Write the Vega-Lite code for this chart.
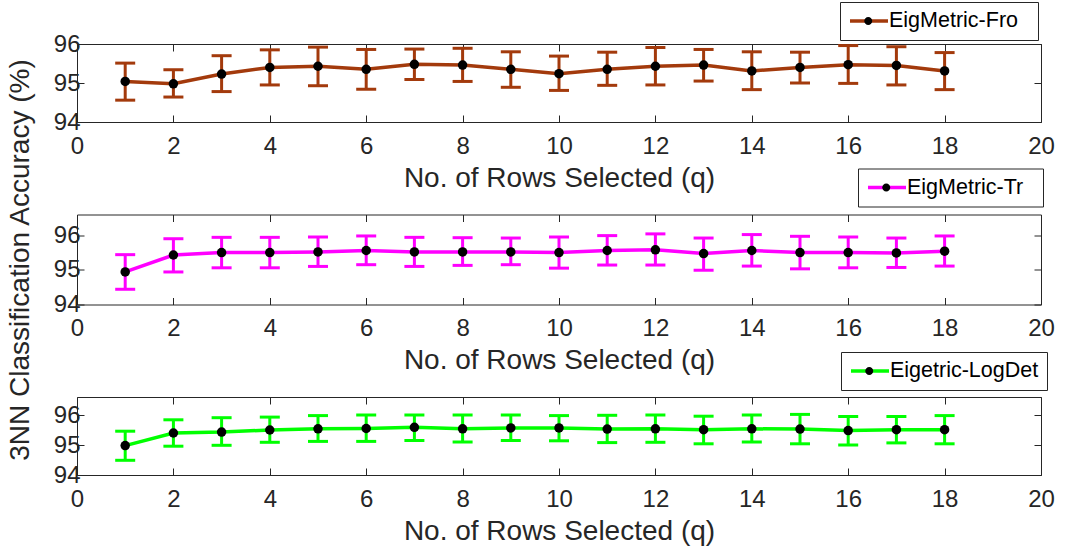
{
  "$schema": "https://vega.github.io/schema/vega-lite/v6.json",
  "padding": {"left": 5, "top": 1, "right": 5, "bottom": 5},
  "bounds": "flush",
  "spacing": 92.5,
  "datasets": {
    "fro": [
      {"q": 1, "acc": 95.04, "lo": 94.56, "hi": 95.51, "series": "EigMetric-Fro"},
      {"q": 2, "acc": 94.98, "lo": 94.64, "hi": 95.34, "series": "EigMetric-Fro"},
      {"q": 3, "acc": 95.23, "lo": 94.78, "hi": 95.70, "series": "EigMetric-Fro"},
      {"q": 4, "acc": 95.40, "lo": 94.95, "hi": 95.85, "series": "EigMetric-Fro"},
      {"q": 5, "acc": 95.43, "lo": 94.93, "hi": 95.92, "series": "EigMetric-Fro"},
      {"q": 6, "acc": 95.35, "lo": 94.84, "hi": 95.86, "series": "EigMetric-Fro"},
      {"q": 7, "acc": 95.48, "lo": 95.09, "hi": 95.87, "series": "EigMetric-Fro"},
      {"q": 8, "acc": 95.46, "lo": 95.04, "hi": 95.89, "series": "EigMetric-Fro"},
      {"q": 9, "acc": 95.35, "lo": 94.89, "hi": 95.80, "series": "EigMetric-Fro"},
      {"q": 10, "acc": 95.24, "lo": 94.81, "hi": 95.69, "series": "EigMetric-Fro"},
      {"q": 11, "acc": 95.35, "lo": 94.94, "hi": 95.79, "series": "EigMetric-Fro"},
      {"q": 12, "acc": 95.43, "lo": 94.95, "hi": 95.91, "series": "EigMetric-Fro"},
      {"q": 13, "acc": 95.46, "lo": 95.05, "hi": 95.86, "series": "EigMetric-Fro"},
      {"q": 14, "acc": 95.31, "lo": 94.83, "hi": 95.80, "series": "EigMetric-Fro"},
      {"q": 15, "acc": 95.40, "lo": 95.00, "hi": 95.79, "series": "EigMetric-Fro"},
      {"q": 16, "acc": 95.47, "lo": 94.99, "hi": 95.96, "series": "EigMetric-Fro"},
      {"q": 17, "acc": 95.45, "lo": 94.95, "hi": 95.93, "series": "EigMetric-Fro"},
      {"q": 18, "acc": 95.31, "lo": 94.83, "hi": 95.78, "series": "EigMetric-Fro"}
    ],
    "tr": [
      {"q": 1, "acc": 94.94, "lo": 94.44, "hi": 95.44, "series": "EigMetric-Tr"},
      {"q": 2, "acc": 95.43, "lo": 94.94, "hi": 95.90, "series": "EigMetric-Tr"},
      {"q": 3, "acc": 95.50, "lo": 95.06, "hi": 95.94, "series": "EigMetric-Tr"},
      {"q": 4, "acc": 95.50, "lo": 95.06, "hi": 95.94, "series": "EigMetric-Tr"},
      {"q": 5, "acc": 95.52, "lo": 95.10, "hi": 95.95, "series": "EigMetric-Tr"},
      {"q": 6, "acc": 95.56, "lo": 95.15, "hi": 95.98, "series": "EigMetric-Tr"},
      {"q": 7, "acc": 95.52, "lo": 95.10, "hi": 95.94, "series": "EigMetric-Tr"},
      {"q": 8, "acc": 95.52, "lo": 95.13, "hi": 95.93, "series": "EigMetric-Tr"},
      {"q": 9, "acc": 95.52, "lo": 95.15, "hi": 95.92, "series": "EigMetric-Tr"},
      {"q": 10, "acc": 95.50, "lo": 95.05, "hi": 95.95, "series": "EigMetric-Tr"},
      {"q": 11, "acc": 95.56, "lo": 95.14, "hi": 95.99, "series": "EigMetric-Tr"},
      {"q": 12, "acc": 95.58, "lo": 95.14, "hi": 96.04, "series": "EigMetric-Tr"},
      {"q": 13, "acc": 95.47, "lo": 94.99, "hi": 95.92, "series": "EigMetric-Tr"},
      {"q": 14, "acc": 95.56, "lo": 95.11, "hi": 96.02, "series": "EigMetric-Tr"},
      {"q": 15, "acc": 95.50, "lo": 95.03, "hi": 95.97, "series": "EigMetric-Tr"},
      {"q": 16, "acc": 95.50, "lo": 95.06, "hi": 95.95, "series": "EigMetric-Tr"},
      {"q": 17, "acc": 95.49, "lo": 95.07, "hi": 95.92, "series": "EigMetric-Tr"},
      {"q": 18, "acc": 95.54, "lo": 95.11, "hi": 95.98, "series": "EigMetric-Tr"}
    ],
    "logdet": [
      {"q": 1, "acc": 94.98, "lo": 94.49, "hi": 95.46, "series": "Eigetric-LogDet"},
      {"q": 2, "acc": 95.40, "lo": 94.96, "hi": 95.84, "series": "Eigetric-LogDet"},
      {"q": 3, "acc": 95.43, "lo": 94.99, "hi": 95.91, "series": "Eigetric-LogDet"},
      {"q": 4, "acc": 95.50, "lo": 95.09, "hi": 95.93, "series": "Eigetric-LogDet"},
      {"q": 5, "acc": 95.54, "lo": 95.12, "hi": 95.98, "series": "Eigetric-LogDet"},
      {"q": 6, "acc": 95.55, "lo": 95.12, "hi": 96.00, "series": "Eigetric-LogDet"},
      {"q": 7, "acc": 95.59, "lo": 95.15, "hi": 96.00, "series": "Eigetric-LogDet"},
      {"q": 8, "acc": 95.54, "lo": 95.10, "hi": 96.00, "series": "Eigetric-LogDet"},
      {"q": 9, "acc": 95.57, "lo": 95.15, "hi": 96.00, "series": "Eigetric-LogDet"},
      {"q": 10, "acc": 95.57, "lo": 95.14, "hi": 95.98, "series": "Eigetric-LogDet"},
      {"q": 11, "acc": 95.53, "lo": 95.08, "hi": 95.99, "series": "Eigetric-LogDet"},
      {"q": 12, "acc": 95.54, "lo": 95.09, "hi": 96.00, "series": "Eigetric-LogDet"},
      {"q": 13, "acc": 95.51, "lo": 95.04, "hi": 95.96, "series": "Eigetric-LogDet"},
      {"q": 14, "acc": 95.54, "lo": 95.10, "hi": 96.00, "series": "Eigetric-LogDet"},
      {"q": 15, "acc": 95.53, "lo": 95.04, "hi": 96.02, "series": "Eigetric-LogDet"},
      {"q": 16, "acc": 95.48, "lo": 95.00, "hi": 95.95, "series": "Eigetric-LogDet"},
      {"q": 17, "acc": 95.51, "lo": 95.07, "hi": 95.95, "series": "Eigetric-LogDet"},
      {"q": 18, "acc": 95.51, "lo": 95.04, "hi": 95.98, "series": "Eigetric-LogDet"}
    ]
  },
  "vconcat": [
    {
      "width": 964,
      "height": 78,
      "data": {"name": "fro"},
      "layer": [
        {
          "mark": {"type": "rule", "color": "#A33A0C", "strokeWidth": 3},
          "encoding": {
            "x": {"field": "q", "type": "quantitative", "scale": {"domain": [0, 20]},
                  "axis": {"orient": "bottom", "values": [0, 2, 4, 6, 8, 10, 12, 14, 16, 18, 20], "title": "No. of Rows Selected (q)"}},
            "y": {"field": "lo", "type": "quantitative", "scale": {"domain": [94, 96]},
                  "axis": {"orient": "left", "values": [94, 95, 96], "format": ".0f", "title": null}},
            "y2": {"field": "hi"}
          }
        },
        {
          "mark": {"type": "tick", "orient": "horizontal", "color": "#A33A0C", "size": 20, "thickness": 3, "opacity": 1},
          "encoding": {
            "x": {"field": "q", "type": "quantitative", "scale": {"domain": [0, 20]},
                  "axis": {"orient": "top", "values": [0, 2, 4, 6, 8, 10, 12, 14, 16, 18, 20], "labels": false, "title": null}},
            "y": {"field": "lo", "type": "quantitative", "scale": {"domain": [94, 96]},
                  "axis": {"orient": "right", "values": [94, 95, 96], "labels": false, "title": null}}
          }
        },
        {
          "mark": {"type": "tick", "orient": "horizontal", "color": "#A33A0C", "size": 20, "thickness": 3, "opacity": 1},
          "encoding": {
            "x": {"field": "q", "type": "quantitative", "axis": null},
            "y": {"field": "hi", "type": "quantitative", "axis": null}
          }
        },
        {
          "mark": {"type": "line", "strokeWidth": 3.5},
          "encoding": {
            "x": {"field": "q", "type": "quantitative", "axis": null},
            "y": {"field": "acc", "type": "quantitative", "axis": null},
            "color": {"field": "series", "type": "nominal", "scale": {"range": ["#A33A0C"]},
                      "legend": {"orient": "none", "legendX": 763, "legendY": -42,
                                 "title": "\u00a0", "titleOrient": "right", "titleFontSize": 1, "titlePadding": 12,
                                 "symbolType": "M-1,0H3", "symbolStrokeWidth": 3.5, "clipHeight": 22,
                                 "strokeColor": "#262626", "fillColor": "#ffffff"}}
          }
        },
        {
          "mark": {"type": "point", "filled": true, "size": 90, "opacity": 1},
          "encoding": {
            "x": {"field": "q", "type": "quantitative", "axis": null},
            "y": {"field": "acc", "type": "quantitative", "axis": null},
            "fill": {"field": "series", "type": "nominal", "scale": {"domain": ["EigMetric-Fro"], "range": ["#000000"]},
                     "legend": {"orient": "none", "legendX": 763, "legendY": -42, "title": null,
                                "symbolType": "M0.58,0A0.42,0.42,0,1,0,1.42,0A0.42,0.42,0,1,0,0.58,0Z",
                                "symbolStrokeWidth": 0, "clipHeight": 22, "labelExpr": "''"}}
          }
        }
      ],
      "resolve": {"axis": {"x": "independent", "y": "independent"}}
    },
    {
      "width": 964,
      "height": 90,
      "data": {"name": "tr"},
      "layer": [
        {
          "mark": {"type": "rule", "color": "#FF00FF", "strokeWidth": 3},
          "encoding": {
            "x": {"field": "q", "type": "quantitative", "scale": {"domain": [0, 20]},
                  "axis": {"orient": "bottom", "values": [0, 2, 4, 6, 8, 10, 12, 14, 16, 18, 20], "title": "No. of Rows Selected (q)"}},
            "y": {"field": "lo", "type": "quantitative", "scale": {"domain": [94, 96.5]},
                  "axis": {"orient": "left", "values": [94, 95, 96], "format": ".0f", "title": "3NN Classification Accuracy (%)"}},
            "y2": {"field": "hi"}
          }
        },
        {
          "mark": {"type": "tick", "orient": "horizontal", "color": "#FF00FF", "size": 20, "thickness": 3, "opacity": 1},
          "encoding": {
            "x": {"field": "q", "type": "quantitative", "scale": {"domain": [0, 20]},
                  "axis": {"orient": "top", "values": [0, 2, 4, 6, 8, 10, 12, 14, 16, 18, 20], "labels": false, "title": null}},
            "y": {"field": "lo", "type": "quantitative", "scale": {"domain": [94, 96.5]},
                  "axis": {"orient": "right", "values": [94, 95, 96], "labels": false, "title": null}}
          }
        },
        {
          "mark": {"type": "tick", "orient": "horizontal", "color": "#FF00FF", "size": 20, "thickness": 3, "opacity": 1},
          "encoding": {
            "x": {"field": "q", "type": "quantitative", "axis": null},
            "y": {"field": "hi", "type": "quantitative", "axis": null}
          }
        },
        {
          "mark": {"type": "line", "strokeWidth": 3.5},
          "encoding": {
            "x": {"field": "q", "type": "quantitative", "axis": null},
            "y": {"field": "acc", "type": "quantitative", "axis": null},
            "color": {"field": "series", "type": "nominal", "scale": {"range": ["#FF00FF"]},
                      "legend": {"orient": "none", "legendX": 781, "legendY": -46,
                                 "title": "\u00a0", "titleOrient": "right", "titleFontSize": 1, "titlePadding": 12,
                                 "symbolType": "M-1,0H3", "symbolStrokeWidth": 3.5, "clipHeight": 22,
                                 "strokeColor": "#262626", "fillColor": "#ffffff"}}
          }
        },
        {
          "mark": {"type": "point", "filled": true, "size": 90, "opacity": 1},
          "encoding": {
            "x": {"field": "q", "type": "quantitative", "axis": null},
            "y": {"field": "acc", "type": "quantitative", "axis": null},
            "fill": {"field": "series", "type": "nominal", "scale": {"domain": ["EigMetric-Tr"], "range": ["#000000"]},
                     "legend": {"orient": "none", "legendX": 781, "legendY": -46, "title": null,
                                "symbolType": "M0.58,0A0.42,0.42,0,1,0,1.42,0A0.42,0.42,0,1,0,0.58,0Z",
                                "symbolStrokeWidth": 0, "clipHeight": 22, "labelExpr": "''"}}
          }
        }
      ],
      "resolve": {"axis": {"x": "independent", "y": "independent"}}
    },
    {
      "width": 964,
      "height": 78,
      "data": {"name": "logdet"},
      "layer": [
        {
          "mark": {"type": "rule", "color": "#00FF00", "strokeWidth": 3},
          "encoding": {
            "x": {"field": "q", "type": "quantitative", "scale": {"domain": [0, 20]},
                  "axis": {"orient": "bottom", "values": [0, 2, 4, 6, 8, 10, 12, 14, 16, 18, 20], "title": "No. of Rows Selected (q)"}},
            "y": {"field": "lo", "type": "quantitative", "scale": {"domain": [94, 96.5]},
                  "axis": {"orient": "left", "values": [94, 95, 96], "format": ".0f", "title": null}},
            "y2": {"field": "hi"}
          }
        },
        {
          "mark": {"type": "tick", "orient": "horizontal", "color": "#00FF00", "size": 20, "thickness": 3, "opacity": 1},
          "encoding": {
            "x": {"field": "q", "type": "quantitative", "scale": {"domain": [0, 20]},
                  "axis": {"orient": "top", "values": [0, 2, 4, 6, 8, 10, 12, 14, 16, 18, 20], "labels": false, "title": null}},
            "y": {"field": "lo", "type": "quantitative", "scale": {"domain": [94, 96.5]},
                  "axis": {"orient": "right", "values": [94, 95, 96], "labels": false, "title": null}}
          }
        },
        {
          "mark": {"type": "tick", "orient": "horizontal", "color": "#00FF00", "size": 20, "thickness": 3, "opacity": 1},
          "encoding": {
            "x": {"field": "q", "type": "quantitative", "axis": null},
            "y": {"field": "hi", "type": "quantitative", "axis": null}
          }
        },
        {
          "mark": {"type": "line", "strokeWidth": 3.5},
          "encoding": {
            "x": {"field": "q", "type": "quantitative", "axis": null},
            "y": {"field": "acc", "type": "quantitative", "axis": null},
            "color": {"field": "series", "type": "nominal", "scale": {"range": ["#00FF00"]},
                      "legend": {"orient": "none", "legendX": 764, "legendY": -45, "title": null,
                                 "symbolType": "M-1,0H3", "symbolStrokeWidth": 3.5, "clipHeight": 22,
                                 "strokeColor": "#262626", "fillColor": "#ffffff"}}
          }
        },
        {
          "mark": {"type": "point", "filled": true, "size": 90, "opacity": 1},
          "encoding": {
            "x": {"field": "q", "type": "quantitative", "axis": null},
            "y": {"field": "acc", "type": "quantitative", "axis": null},
            "fill": {"field": "series", "type": "nominal", "scale": {"domain": ["Eigetric-LogDet"], "range": ["#000000"]},
                     "legend": {"orient": "none", "legendX": 764, "legendY": -45, "title": null,
                                "symbolType": "M0.58,0A0.42,0.42,0,1,0,1.42,0A0.42,0.42,0,1,0,0.58,0Z",
                                "symbolStrokeWidth": 0, "clipHeight": 22, "labelExpr": "''"}}
          }
        }
      ],
      "resolve": {"axis": {"x": "independent", "y": "independent"}}
    }
  ],
  "resolve": {"scale": {"color": "independent", "fill": "independent"}},
  "config": {
    "font": "Liberation Sans",
    "view": {"stroke": "#262626", "strokeWidth": 1},
    "axis": {
      "grid": false, "domain": false,
      "labelFont": "Liberation Sans", "labelFontSize": 24, "labelColor": "#262626",
      "labelFlush": false, "labelOverlap": false,
      "tickColor": "#262626", "tickSize": -7, "tickWidth": 1,
      "titleFont": "Liberation Sans", "titleFontSize": 28, "titleFontWeight": "normal", "titleColor": "#262626"
    },
    "axisX": {"labelPadding": 19, "titlePadding": 6},
    "axisY": {"labelPadding": 4, "titlePadding": 19},
    "legend": {
      "labelFont": "Liberation Sans", "labelFontSize": 21.5, "labelColor": "#000000",
      "padding": 8, "labelOffset": 18, "labelLimit": 400, "symbolSize": 361
    }
  }
}
